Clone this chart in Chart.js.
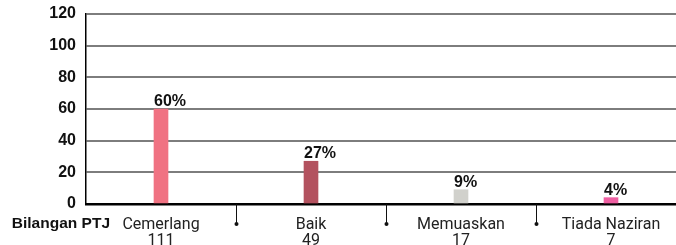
<!DOCTYPE html>
<html>
<head>
<meta charset="utf-8">
<script src="https://cdn.jsdelivr.net/npm/chart.js@4"></script>
<style>
  html, body { margin: 0; padding: 0; background: #fff; overflow: hidden; }
  #wrap { width: 676px; height: 245px; overflow: hidden; position: relative; }
  #box { width: 686px; height: 260px; position: absolute; left: 0; top: -4px; }
</style>
</head>
<body>
<div id="wrap"><div id="box"><canvas id="chart"></canvas></div></div>
<script>
// chart data
const categories = ['Cemerlang', 'Baik', 'Memuaskan', 'Tiada Naziran'];
const counts = [111, 49, 17, 7];
const percents = [60, 27, 9, 4];
const barColors = ['#f07282', '#b3525f', '#d1d1cc', '#ef5fa2'];
const yTicks = [0, 20, 40, 60, 80, 100, 120];

const narrow = 'Roboto, "Liberation Sans Narrow", sans-serif';
const sans = '"Liberation Sans", Arial, sans-serif';

// percent labels above bars, left aligned with the bar
const valueLabels = {
  id: 'valueLabels',
  afterDatasetsDraw(chart) {
    const ctx = chart.ctx;
    const meta = chart.getDatasetMeta(0);
    ctx.save();
    ctx.font = 'bold 16px ' + sans;
    ctx.fillStyle = '#111';
    ctx.textAlign = 'left';
    ctx.textBaseline = 'alphabetic';
    meta.data.forEach((bar, i) => {
      ctx.fillText(percents[i] + '%', bar.x - bar.width / 2, bar.y - 3);
    });
    ctx.restore();
  }
};

// dividers under the axis and the row title
const extras = {
  id: 'extras',
  afterDraw(chart) {
    const ctx = chart.ctx;
    const x = chart.scales.x;
    const bottom = chart.chartArea.bottom;
    ctx.save();
    ctx.strokeStyle = '#111';
    ctx.fillStyle = '#111';
    ctx.lineWidth = 1;
    for (let i = 0; i < categories.length - 1; i++) {
      const px = Math.round((x.getPixelForValue(i) + x.getPixelForValue(i + 1)) / 2) + 0.5;
      ctx.beginPath();
      ctx.moveTo(px, bottom);
      ctx.lineTo(px, bottom + 20);
      ctx.stroke();
      ctx.beginPath();
      ctx.arc(px, bottom + 20, 2, 0, Math.PI * 2);
      ctx.fill();
    }
    ctx.font = 'bold 15.5px ' + sans;
    ctx.textAlign = 'right';
    ctx.textBaseline = 'middle';
    ctx.fillText('Bilangan PTJ', 110, bottom + 20);
    ctx.restore();
  }
};

new Chart(document.getElementById('chart'), {
  type: 'bar',
  data: {
    labels: categories.map((c, i) => [c, String(counts[i])]),
    datasets: [{
      data: percents,
      backgroundColor: barColors,
      barThickness: 14
    }]
  },
  options: {
    responsive: true,
    maintainAspectRatio: false,
    animation: false,
    layout: { padding: { top: 13, left: 0, right: 0, bottom: 0 } },
    plugins: { legend: { display: false }, tooltip: { enabled: false } },
    scales: {
      x: {
        offset: true,
        grid: { display: false, drawTicks: false },
        border: { display: true, color: '#000', width: 2.5 },
        ticks: {
          color: '#222',
          padding: 13,
          maxRotation: 0,
          autoSkip: false,
          font: { family: narrow, size: 16, lineHeight: 1.0 }
        },
        afterFit(s) { s.height = 52; }
      },
      y: {
        min: 0,
        max: 120,
        afterBuildTicks(s) { s.ticks = yTicks.map(v => ({ value: v })); },
        grid: { color: '#7d7d7d', lineWidth: 2, drawTicks: false },
        border: { display: true, color: '#000', width: 1.5 },
        ticks: {
          color: '#111',
          padding: 10,
          font: { family: sans, size: 16, weight: 'bold', lineHeight: 1.0 }
        },
        afterFit(s) { s.width = 86; }
      }
    }
  },
  plugins: [valueLabels, extras]
});
</script>
</body>
</html>
